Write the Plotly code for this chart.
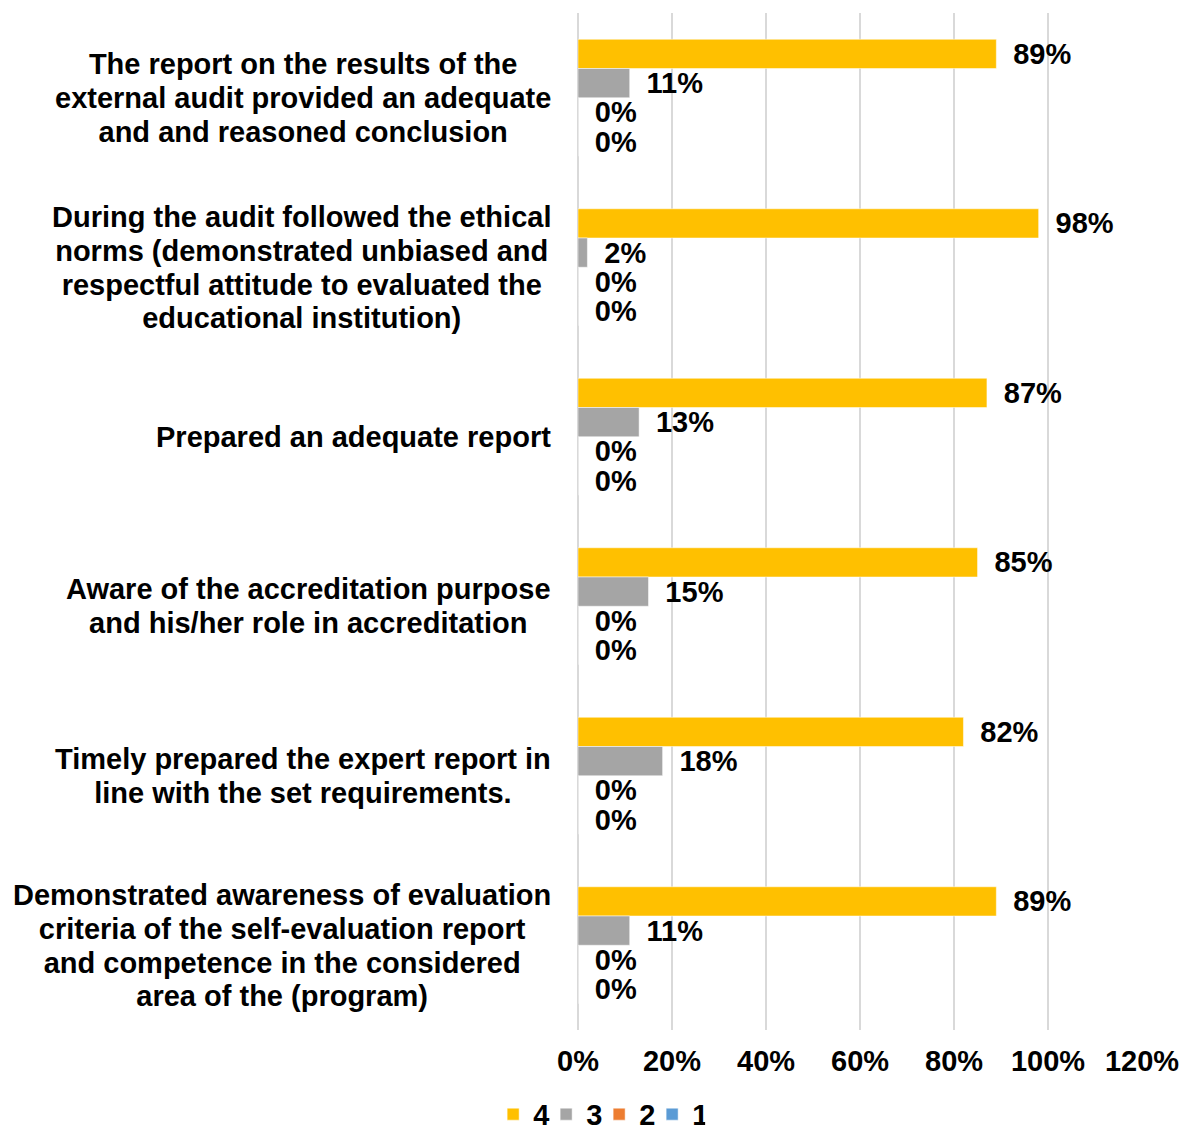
import plotly.graph_objects as go

# Survey statements (top to bottom) and share of answers per rating
categories = [
    "The report on the results of the<br>external audit provided an adequate<br>and and reasoned conclusion",
    "During the audit followed the ethical<br>norms (demonstrated unbiased and<br>respectful attitude to evaluated the<br>educational institution)",
    "Prepared an adequate report",
    "Aware of the accreditation purpose<br>and his/her role in accreditation",
    "Timely prepared the expert report in<br>line with the set requirements.",
    "Demonstrated awareness of evaluation<br>criteria of the self-evaluation report<br>and competence in the considered<br>area of the (program)",
]
series_names = ["4", "3", "2", "1"]
rating_4 = [0.89, 0.98, 0.87, 0.85, 0.82, 0.89]
rating_3 = [0.11, 0.02, 0.13, 0.15, 0.18, 0.11]
rating_2 = [0.0, 0.0, 0.0, 0.0, 0.0, 0.0]
rating_1 = [0.0, 0.0, 0.0, 0.0, 0.0, 0.0]
tick_vals = [0, 0.2, 0.4, 0.6, 0.8, 1.0, 1.2]
tick_text = ["0%", "20%", "40%", "60%", "80%", "100%", "120%"]

colors = ["#FFC000", "#A5A5A5", "#ED7D31", "#5B9BD5"]
FONT = "Liberation Sans"
FS = 29          # glyph size
LINE_BASE = 26   # base size that sets the line pitch (1.3 em)

y_keys = list(range(len(categories)))

fig = go.Figure()
for name, vals, col in zip(series_names, [rating_4, rating_3, rating_2, rating_1], colors):
    fig.add_trace(go.Bar(
        name=name,
        y=y_keys,
        x=vals,
        orientation="h",
        marker=dict(color=col, line=dict(color="white", width=0.5)),
        text=[f"<b>\u00a0\u2009{round(v * 100)}%</b>" for v in vals],
        textposition="outside",
        constraintext="none",
        cliponaxis=False,
        textfont=dict(family=FONT, size=FS, color="black"),
    ))


def label_html(label):
    lines = label.split("<br>")
    return "<br>".join(
        f"<span style='font-size:{FS}px'><b>{ln}</b></span>" for ln in lines
    )


# Category labels as centred multi-line blocks to the left of the plot
for i, label in enumerate(categories):
    fig.add_annotation(
        x=0, xref="paper", y=i, yref="y",
        text=label_html(label),
        showarrow=False,
        xanchor="right", yanchor="middle",
        align="center",
        xshift=-25,
        font=dict(family=FONT, size=LINE_BASE, color="black"),
    )

fig.update_layout(
    width=1184, height=1133,
    margin=dict(l=578, r=41, t=13, b=103, autoexpand=False),
    paper_bgcolor="white", plot_bgcolor="white",
    barmode="group",
    bargap=0.31,
    bargroupgap=0,
    showlegend=True,
    legend=dict(
        orientation="h",
        xref="container", x=0.4165, xanchor="left",
        yref="container", y=0.0165, yanchor="middle",
        font=dict(family=FONT, size=FS, color="black", weight="bold"),
        traceorder="normal",
        itemwidth=30,
        entrywidth=8,
        entrywidthmode="pixels",
    ),
    font=dict(family=FONT, color="black"),
)

fig.update_xaxes(
    range=[0, 1.202],
    tickvals=tick_vals, ticktext=[f"<b>{t}</b>" for t in tick_text],
    showgrid=True, gridcolor="#D9D9D9", gridwidth=2,
    zeroline=True, zerolinecolor="#D9D9D9", zerolinewidth=2,
    showline=False,
    ticks="", ticklabelstandoff=11,
    tickfont=dict(family=FONT, size=FS, color="black"),
)
fig.update_yaxes(
    autorange="reversed",
    showticklabels=False,
    showgrid=False, zeroline=False, showline=False,
    ticks="",
)

fig.write_html("out.html")
